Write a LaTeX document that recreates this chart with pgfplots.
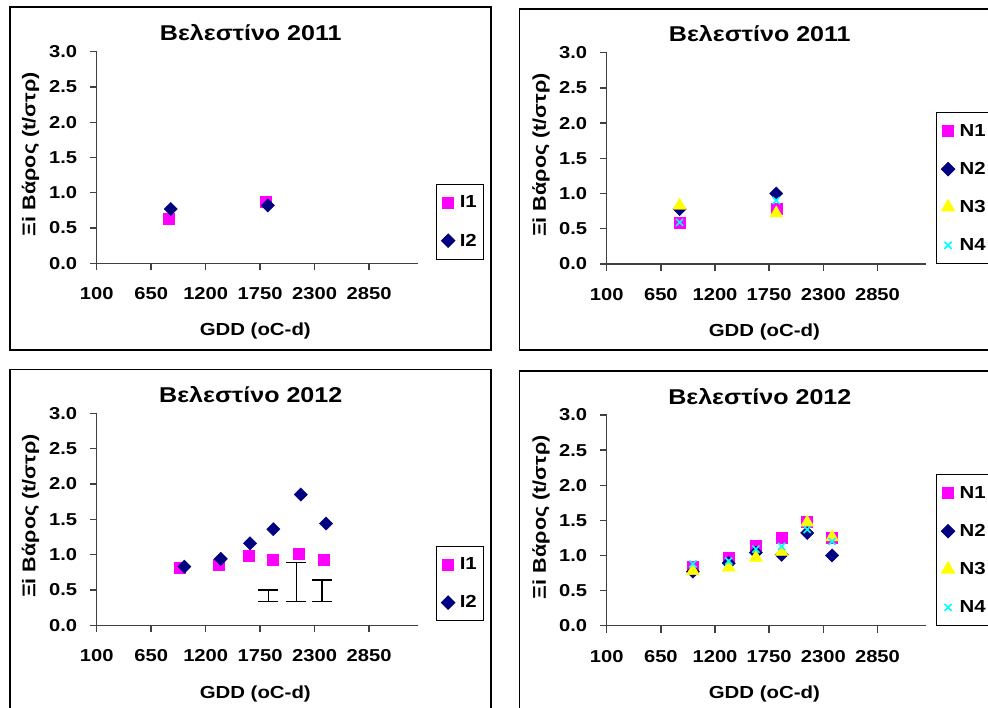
\documentclass[border=0pt]{standalone}
\usepackage{fontspec}
\setmainfont{Liberation Sans}[FakeStretch=1.17]
\usepackage{pgfplots}
\pgfplotsset{compat=1.18}
\definecolor{cMag}{HTML}{FF00FF}
\definecolor{cNavy}{HTML}{000080}
\definecolor{cYel}{HTML}{FFFF00}
\definecolor{cCyan}{HTML}{00FFFF}
\definecolor{axgray}{HTML}{404040}
\pgfplotsset{
  panel/.style={
    scale only axis, width=321bp, height=211.6bp,
    anchor=south west,
    axis lines=left, axis line style={-, line width=1.4bp, color=axgray},
    xmin=100, xmax=3340, ymin=0, ymax=3,
    xtick={100,650,1200,1750,2300,2850},
    ytick={0,0.5,1,1.5,2,2.5,3},
    tick align=outside, major tick length=7bp,
    every tick/.style={line width=1.4bp, color=axgray},
    /pgf/number format/assume math mode=true,
    ticklabel style={font=\bfseries\fontsize{17.3}{17.3}\selectfont},
    xticklabel style={/pgf/number format/1000 sep={}, yshift=-14bp},
    yticklabel style={/pgf/number format/fixed, /pgf/number format/fixed zerofill, /pgf/number format/precision=1},
    every y tick label/.append style={xshift=-9bp},
    title style={at={(axis description cs:0.48,1.06)}, anchor=center, font=\bfseries\fontsize{21.5}{21.5}\selectfont},
    xlabel={GDD (oC-d)},
    ylabel={Ξi Βάρος (t/στρ)},
    xlabel style={at={(axis description cs:0.494,-0.322)}, anchor=center, font=\bfseries\fontsize{17.5}{17.5}\selectfont},
    ylabel style={at={(axis description cs:-0.206,0.515)}, anchor=center, rotate=0, font=\bfseries\fontsize{18.5}{18.5}\selectfont},
    clip=false,
    legend cell align=left,
  },
  legcommon/.style={legend style={anchor=north west, draw=black, line width=1bp, fill=white,
    font=\bfseries\fontsize{17.5}{17.5}\selectfont, inner xsep=5bp, inner ysep=9.5bp, row sep=20.5bp,
    /tikz/every odd column/.append style={column sep=3bp}}},
  legI/.style={legcommon, legend style={at={(1.057,0.375)}}},
  legN/.style={legcommon, legend style={at={(1.032,0.718)}}},
  sA/.style={only marks, mark=square*, mark size=5.5bp, color=cMag, mark options={fill=cMag, draw=cMag}},
  sB/.style={only marks, mark=square*, mark size=4.7bp, color=cNavy, mark options={rotate=45, fill=cNavy, draw=cNavy}},
  sC/.style={only marks, mark=triangle*, mark size=7.5bp, color=cYel, mark options={fill=cYel, draw=cYel}},
  sD/.style={only marks, mark=x, mark size=5bp, color=cCyan, mark options={line width=1.6bp, draw=cCyan}},
  ebar/.style={black, line width=1.4bp, forget plot},
  ecap/.style={only marks, mark=-, mark size=10bp, black, mark options={line width=1.4bp}, forget plot},
}
\begin{document}
\begin{tikzpicture}[x=1bp, y=1bp]
\useasboundingbox (0,0) rectangle (988,708);
\clip (0,0) rectangle (988,708);
% panel frames
\draw[line width=1.3bp] (10,358) rectangle (491,701);
\draw[line width=1.3bp] (519.3,358) rectangle (1000,699);
\draw[line width=1.3bp] (10,-10) rectangle (491,338.5);
\draw[line width=1.3bp] (519.3,-10) rectangle (1000,337);

% top-left
\begin{axis}[panel, legI, at={(96.7bp,444.7bp)}, title={Βελεστίνο 2011}]
\addplot[sA] coordinates {(823,0.63) (1806,0.88)};
\addlegendentry{I1}
\addplot[sB] coordinates {(847,0.77) (1827,0.82)};
\addlegendentry{I2}
\end{axis}

% top-right
\begin{axis}[panel, legN, at={(606.7bp,444bp)}, width=319bp, height=211.3bp, title={Βελεστίνο 2011}]
\addplot[sA] coordinates {(840,0.59) (1822,0.78)};
\addlegendentry{N1}
\addplot[sB] coordinates {(840,0.78) (1822,1.00)};
\addlegendentry{N2}
\addplot[sC] coordinates {(840,0.83) (1822,0.72)};
\addlegendentry{N3}
\addplot[sD] coordinates {(840,0.59) (1822,0.90)};
\addlegendentry{N4}
\end{axis}

% bottom-left
\begin{axis}[panel, legI, at={(96.7bp,82.7bp)}, height=212bp, title={Βελεστίνο 2012}]
\addplot[sA] coordinates {(941,0.82) (1335,0.86) (1631,0.99) (1873,0.93) (2143,1.02) (2395,0.93)};
\addlegendentry{I1}
\addplot[sB] coordinates {(985,0.83) (1352,0.94) (1648,1.16) (1883,1.36) (2160,1.85) (2415,1.44)};
\addlegendentry{I2}
\addplot[ebar] coordinates {(1832,0.335) (1832,0.50)};
\addplot[ebar] coordinates {(2114,0.335) (2114,0.89)};
\addplot[ebar] coordinates {(2376,0.335) (2376,0.64)};
\addplot[ecap] coordinates {(1832,0.335) (1832,0.50) (2114,0.335) (2114,0.89) (2376,0.335) (2376,0.64)};
\end{axis}

% bottom-right
\begin{axis}[panel, legN, at={(606.7bp,82.3bp)}, width=319bp, height=210.7bp, title={Βελεστίνο 2012}]
\addplot[sA] coordinates {(975,0.84) (1339,0.97) (1615,1.14) (1877,1.25) (2136,1.48) (2389,1.25)};
\addlegendentry{N1}
\addplot[sB] coordinates {(975,0.77) (1339,0.89) (1615,1.04) (1877,1.01) (2136,1.32) (2389,1.00)};
\addlegendentry{N2}
\addplot[sC] coordinates {(975,0.78) (1339,0.83) (1615,0.97) (1877,1.05) (2136,1.47) (2389,1.26)};
\addlegendentry{N3}
\addplot[sD] coordinates {(975,0.88) (1339,0.92) (1615,1.09) (1877,1.13) (2136,1.37) (2389,1.20)};
\addlegendentry{N4}
\end{axis}
\end{tikzpicture}
\end{document}
